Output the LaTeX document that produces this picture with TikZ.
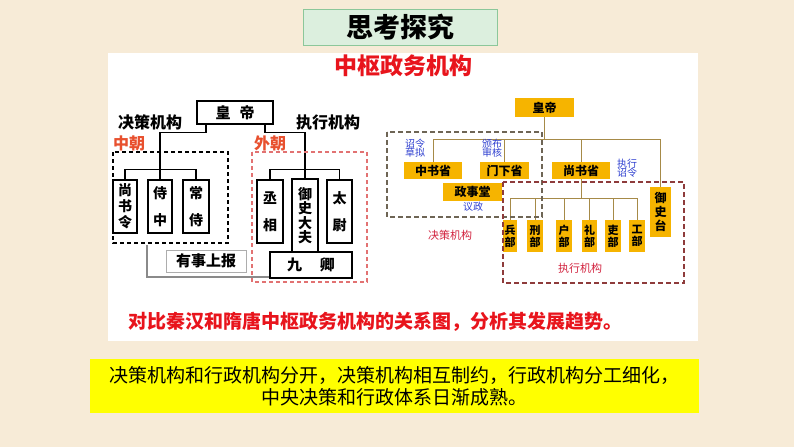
\documentclass[tikz,border=0pt]{standalone}
\usepackage{fontspec}
\setmainfont{Noto Sans CJK SC}
\definecolor{bgBeige}{HTML}{F7EBD7}
\definecolor{titleFill}{HTML}{DCEFDE}
\definecolor{titleLine}{HTML}{8CC79A}
\definecolor{headRed}{HTML}{E8141C}
\definecolor{chaoRed}{HTML}{E8502E}
\definecolor{dashPink}{HTML}{E27272}
\definecolor{gold}{HTML}{F6B400}
\definecolor{lblBlue}{HTML}{2E3FD0}
\definecolor{lblCrimson}{HTML}{D2233F}
\definecolor{olive}{HTML}{A68A48}
\definecolor{dashGray}{HTML}{6E6555}
\definecolor{dashBrown}{HTML}{8E3B3B}
\definecolor{ansYellow}{HTML}{FFFF00}
\definecolor{reportGray}{HTML}{8A8A8A}
\newcommand{\fs}[1]{\fontsize{#1}{#1}\selectfont}

\begin{document}
\begin{tikzpicture}[x=1pt,y=-1pt,
  titlebox/.style={draw=titleLine,fill=titleFill,line width=1pt,minimum width=194,minimum height=36,inner sep=0pt,font=\fs{27}\bfseries},
  headtxt/.style={headRed,font=\fs{23}\bfseries,inner sep=0pt},
  hbox/.style={draw=black,fill=white,line width=1.1pt,inner sep=0pt,align=center},
  tline/.style={black,line width=1.2pt},
  grp/.style={font=\fs{16}\bfseries,inner sep=0pt},
  chao/.style={chaoRed,font=\fs{16}\bfseries,inner sep=0pt},
  gbox/.style={fill=gold,inner sep=0pt,align=center,font=\fs{12}\bfseries},
  oline/.style={olive,line width=1pt},
  blbl/.style={lblBlue,font=\fontsize{10}{9.5}\selectfont,align=center,inner sep=0pt},
  clbl/.style={lblCrimson,font=\fs{11},inner sep=0pt}]
  \fill[bgBeige] (0,0) rectangle (794,447);
  \useasboundingbox (0,0) rectangle (794,447);
  \fill[white] (108,53) rectangle (698,341);
  % title
  \node[titlebox] (title) at (400,27) {思考探究};
  \node[headtxt] (head) at (403,66) {中枢政务机构};
  % Qin-Han
  \node[hbox,minimum width=76,minimum height=23,font=\fs{15}\bfseries] (hd) at (235,112.5) {皇\hspace{0.6em}帝};
  \node[grp] (jc) at (150,122) {决策机构};
  \node[grp] (zx) at (328,122) {执行机构};
  \node[chao] (zc) at (129,143) {中朝};
  \node[chao] (wc) at (270,143) {外朝};
  \node[hbox,minimum width=24,minimum height=53,font=\fontsize{14}{16}\selectfont\bfseries] (ssl) at (125,206.5) {尚\\书\\令};
  \node[hbox,minimum width=24,minimum height=53,font=\fontsize{14}{27}\selectfont\bfseries] (sz) at (160,206.5) {侍\\中};
  \node[hbox,minimum width=26,minimum height=53,font=\fontsize{14}{27}\selectfont\bfseries] (cs) at (196,206.5) {常\\侍};
  \node[hbox,minimum width=26,minimum height=63,font=\fontsize{14}{27}\selectfont\bfseries] (cx) at (270,211.5) {丞\\相};
  \node[hbox,minimum width=26,minimum height=73,font=\fontsize{14}{14.5}\selectfont\bfseries] (ys) at (305,215.5) {御\\史\\大\\夫};
  \node[hbox,minimum width=25,minimum height=63,font=\fontsize{14}{27}\selectfont\bfseries] (tw) at (339.5,211.5) {太\\尉};
  \node[hbox,minimum width=82,minimum height=26,font=\fs{15}\bfseries] (jq) at (311,265) {九\hspace{1.2em}卿};
  \node[hbox,draw=reportGray!70,line width=0.8pt,minimum width=80,minimum height=22,font=\fs{15}\bfseries] (yb) at (206,261) {有事上报};
  \draw[tline] ([xshift=-29pt]hd.south) -- ++(0,8) -| (sz.north);
  \draw[tline] (ssl.north) -- ++(0,-10) -| (cs.north);
  \draw[tline] ([xshift=30pt]hd.south) -- ++(0,8) -| (ys.north);
  \draw[tline] (cx.north) -- ++(0,-10) -| (tw.north);
  \coordinate (up) at (147,245);
  \draw[reportGray,line width=1.6pt] (up) |- ([yshift=1.5pt]jq.south west);
  \draw[black,line width=1.1pt,dash pattern=on 4pt off 3pt] (113,152) rectangle (228,243);
  \draw[dashPink,line width=1.1pt,dash pattern=on 4pt off 3pt] (252,152) rectangle (367,282);
  % Sui-Tang
  \node[gbox,minimum width=59,minimum height=19,font=\fs{12}\bfseries] (hd2) at (544.5,107.5) {皇帝};
  \node[gbox,minimum width=58,minimum height=17] (zs) at (433,170.5) {中书省};
  \node[gbox,minimum width=49,minimum height=17] (mx) at (504.5,170.5) {门下省};
  \node[gbox,minimum width=58,minimum height=17] (ss) at (581,170.5) {尚书省};
  \node[gbox,minimum width=59,minimum height=18] (zst) at (472.5,192) {政事堂};
  \node[gbox,minimum width=21,minimum height=50,font=\fontsize{12}{14}\selectfont\bfseries] (yst) at (660.5,212) {御\\史\\台};
  \foreach \n/\x/\w/\t in {bb/510/14/兵, xb/535/16/刑, hb/564/16/户, lb/589.5/15/礼, lib/613/16/吏, gb/637/16/工}
    \node[gbox,minimum width=\w,minimum height=32,font=\fontsize{11}{12}\selectfont\bfseries] (\n) at (\x,236) {\t\\部};
  \draw[oline] (hd2.south) -- ++(0,23);
  \draw[oline] (zs.north) -- ++(0,-22) -| (yst.north);
  \draw[oline] (mx.north) -- ++(0,-22);
  \draw[oline] (ss.north) -- ++(0,-22);
  \draw[oline] (ss.south) -- ++(0,19);
  \draw[oline] (bb.north) -- ++(0,-21) -| (gb.north);
  \foreach \n in {xb,hb,lb,lib} \draw[oline] (\n.north) -- ++(0,-21);
  \node[blbl] (zl) at (415,148) {诏令\\草拟};
  \node[blbl] (bs) at (492,148) {颁布\\审核};
  \node[blbl] (zxl) at (627,168) {执行\\诏令};
  \node[blbl] (yz) at (473,207) {议政};
  \node[clbl] (jc2) at (450,235) {决策机构};
  \node[clbl] (zx2) at (580,268) {执行机构};
  \draw[dashGray,line width=1.8pt,dash pattern=on 5pt off 3pt] (387,132) rectangle (542,217);
  \draw[dashBrown,line width=1.8pt,dash pattern=on 5pt off 3pt] (503,182) rectangle (684,283);
  % question and answer
  \node[headRed,font=\fs{19}\bfseries,inner sep=0pt] (q) at (375,322) {对比秦汉和隋唐中枢政务机构的关系图，分析其发展趋势。};
  \node[fill=ansYellow,minimum width=609,minimum height=54,inner sep=0pt,align=center,font=\fontsize{19}{22}\selectfont] (ans) at (394.5,386)
    {决策机构和行政机构分开，决策机构相互制约，行政机构分工细化，\\中央决策和行政体系日渐成熟。};
\end{tikzpicture}
\end{document}
